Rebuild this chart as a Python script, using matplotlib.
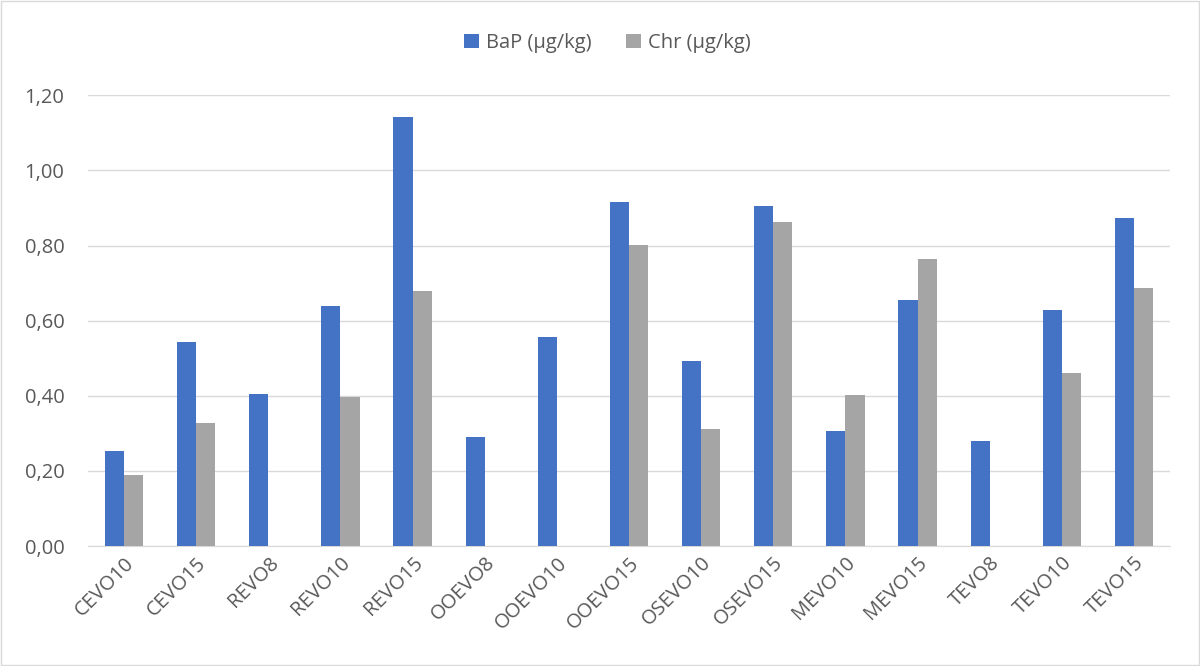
import numpy as np
import matplotlib.pyplot as plt
from matplotlib.patches import Rectangle
from matplotlib.ticker import FuncFormatter

plt.rcParams['font.family'] = ['Open Sans', 'DejaVu Sans']

categories = ["CEVO10", "CEVO15", "REVO8", "REVO10", "REVO15", "OOEVO8", "OOEVO10",
              "OOEVO15", "OSEVO10", "OSEVO15", "MEVO10", "MEVO15", "TEVO8", "TEVO10", "TEVO15"]
bap = [0.253, 0.543, 0.404, 0.639, 1.141, 0.290, 0.556, 0.915, 0.492, 0.905,
       0.306, 0.655, 0.279, 0.628, 0.873]
chr_ = [0.189, 0.327, 0.0, 0.396, 0.679, 0.0, 0.0, 0.801, 0.311, 0.862,
        0.402, 0.764, 0.0, 0.460, 0.687]

fig = plt.figure(figsize=(12, 6.66), dpi=100)
ax = fig.add_axes([0.0733, 0.180, 0.9017, 0.677])

x = np.arange(len(categories))
w = 0.265
ax.bar(x - w/2, bap, width=w, color='#4472C4', label='BaP (µg/kg)', zorder=3)
ax.bar(x + w/2, chr_, width=w, color='#A5A5A5', label='Chr (µg/kg)', zorder=3)

ax.set_xlim(-0.5, len(categories) - 0.5)
ax.set_ylim(0, 1.2)
ax.set_yticks(np.arange(0, 1.21, 0.2))
ax.yaxis.set_major_formatter(FuncFormatter(lambda v, p: f"{v:.2f}".replace('.', ',')))
ax.grid(axis='y', color='#D9D9D9', linewidth=1, zorder=0)
ax.set_xticks(x)
ax.set_xticklabels(categories, rotation=45, ha='right', rotation_mode='anchor')

for s in ['top', 'right', 'left']:
    ax.spines[s].set_visible(False)
ax.spines['bottom'].set_color('#D9D9D9')
ax.tick_params(axis='both', length=0, labelsize=14.5, labelcolor='#595959')
ax.tick_params(axis='y', pad=17)
ax.tick_params(axis='x', pad=5)

fig.legend(*ax.get_legend_handles_labels(), loc='center', bbox_to_anchor=(0.506, 0.935),
           ncol=2, frameon=False, fontsize=14.5, labelcolor='#595959',
           handlelength=0.75, handleheight=0.7, columnspacing=1.7, handletextpad=0.35)

fig.patches.append(Rectangle((0.001, 0.0015), 0.998, 0.997, transform=fig.transFigure,
                             fill=False, edgecolor='#D9D9D9', linewidth=1))

fig.savefig("out.png", dpi=100)
